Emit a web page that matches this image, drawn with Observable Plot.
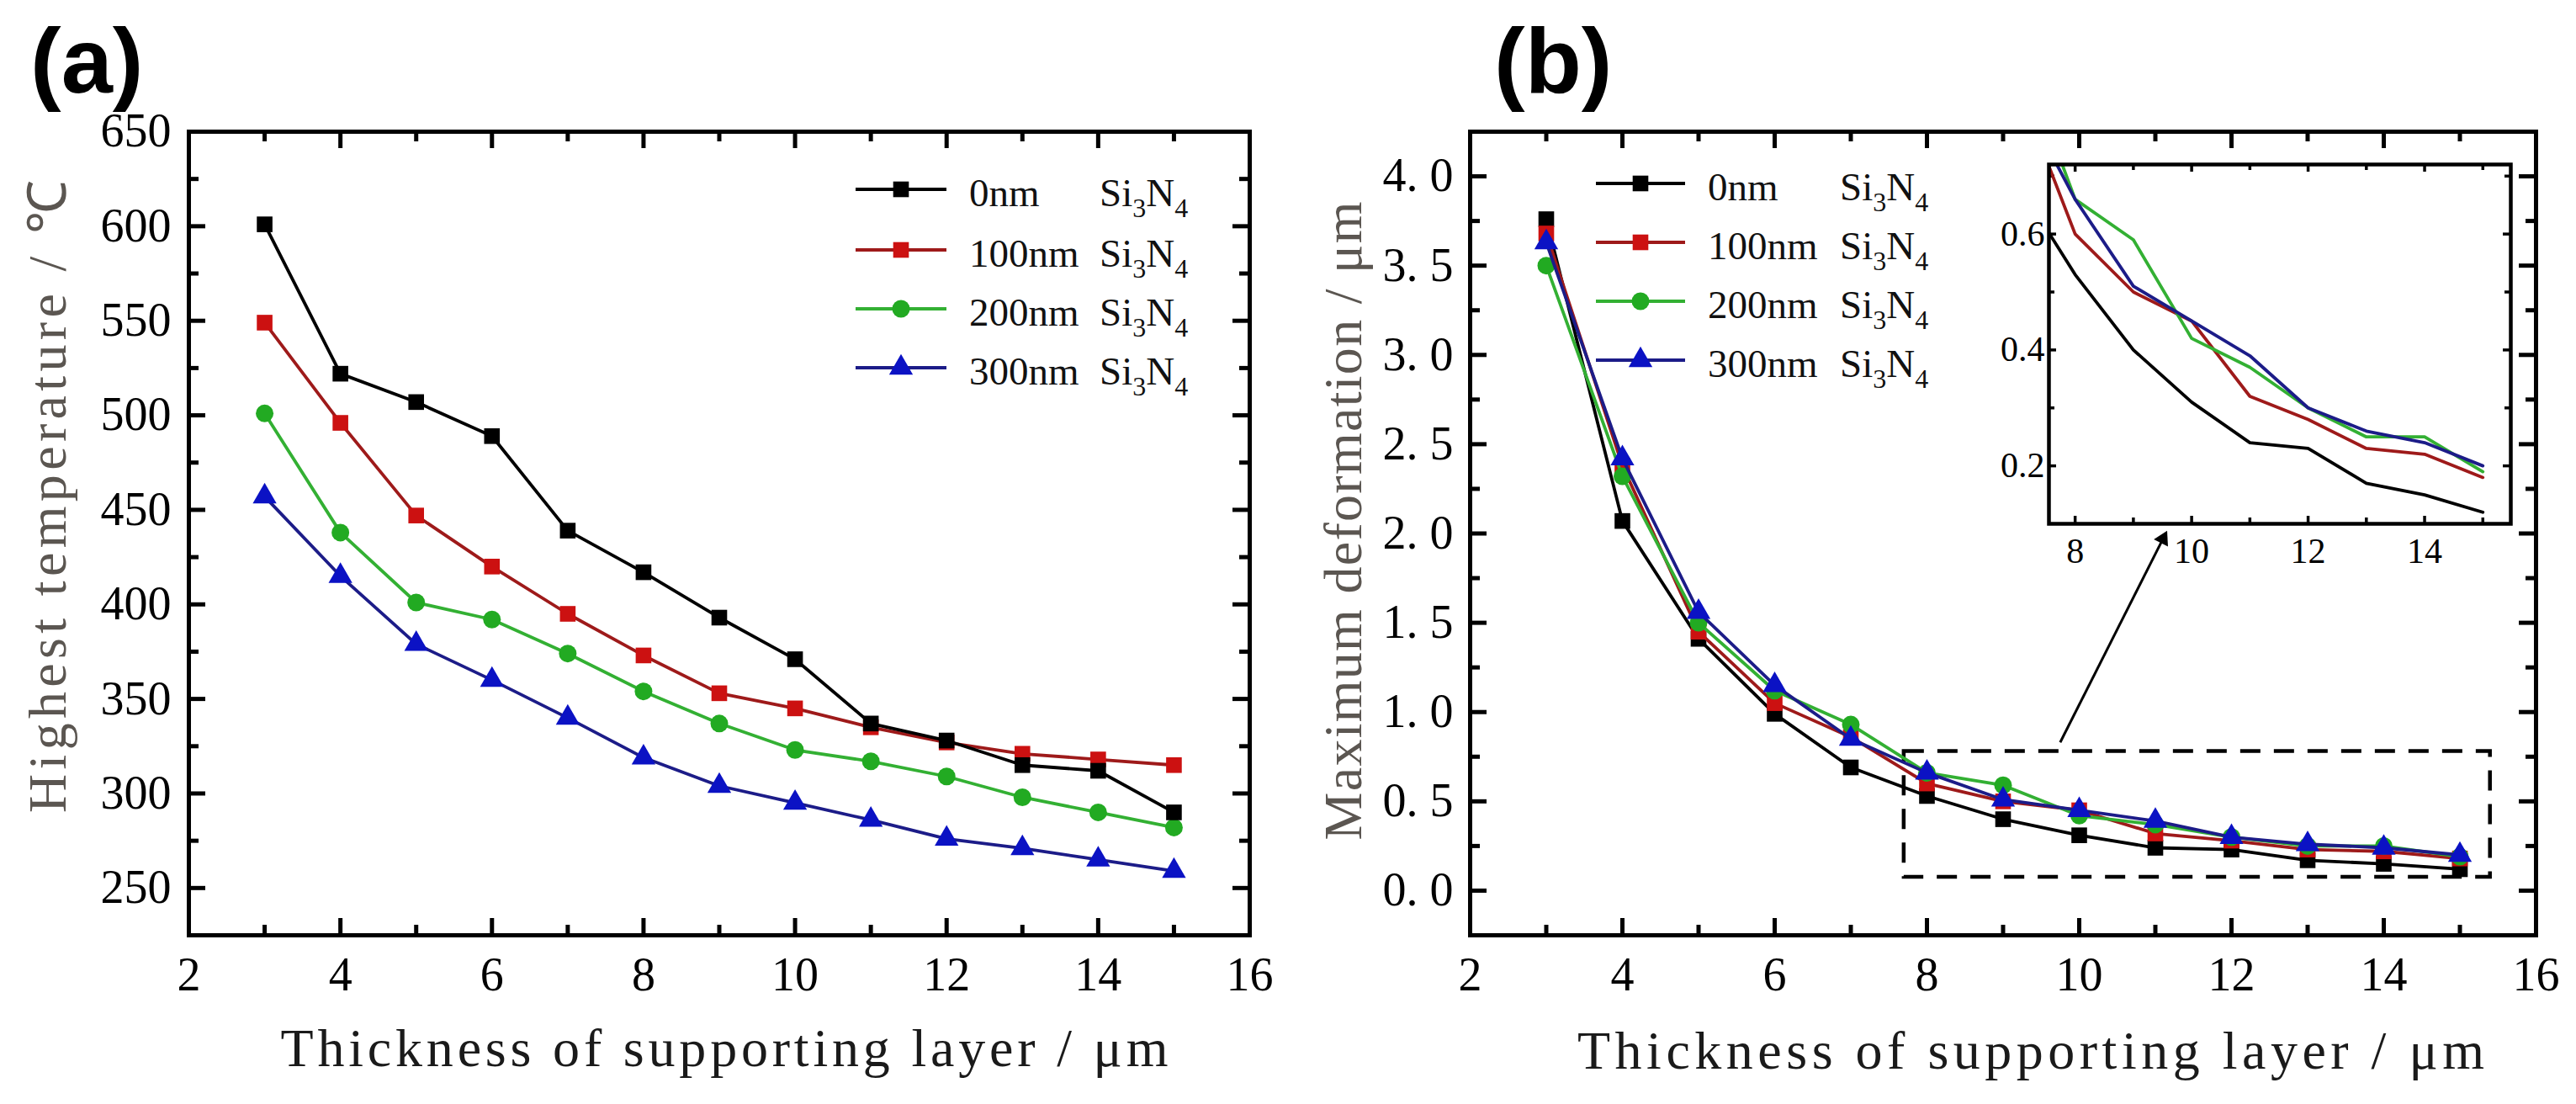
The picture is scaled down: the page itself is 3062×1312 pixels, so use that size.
<!DOCTYPE html>
<html>
<head>
<meta charset="utf-8">
<script src="https://cdn.jsdelivr.net/npm/d3@7"></script>
<script src="https://cdn.jsdelivr.net/npm/@observablehq/plot@0.6"></script>
<style>
  html, body { margin: 0; padding: 0; background: #fff; overflow: hidden; }
  #wrap { position: relative; width: 3062px; height: 1312px; background: #fff; overflow: hidden; }
  #wrap > svg { position: absolute; }
</style>
</head>
<body>
<div id="wrap"></div>
<script>
// ---------------- DATA ----------------
const thickness = [3, 4, 5, 6, 7, 8, 9, 10, 11, 12, 13, 14, 15];
const seriesNames = ["0nm", "100nm", "200nm", "300nm"];
const materialLabel = ["Si", "3", "N", "4"];

// (a) Highest temperature / ℃
const temp0nm   = [601, 522, 507, 489, 439, 417, 393, 371, 337, 328, 315, 312, 290];
const temp100nm = [549, 496, 447, 420, 395, 373, 353, 345, 335, 327, 321, 318, 315];
const temp200nm = [501, 438, 401, 392, 374, 354, 337, 323, 317, 309, 298, 290, 282];
const temp300nm = [457, 415, 379, 360, 340, 319, 304, 295, 286, 276, 271, 265, 259];

// (b) Maximum deformation / μm
const def0nm   = [3.76, 2.07, 1.41, 0.99, 0.69, 0.53, 0.40, 0.31, 0.24, 0.23, 0.17, 0.15, 0.12];
const def100nm = [3.68, 2.38, 1.45, 1.05, 0.86, 0.60, 0.50, 0.45, 0.32, 0.28, 0.23, 0.22, 0.18];
const def200nm = [3.50, 2.32, 1.50, 1.12, 0.93, 0.66, 0.59, 0.42, 0.37, 0.30, 0.25, 0.25, 0.19];
const def300nm = [3.63, 2.42, 1.56, 1.15, 0.85, 0.66, 0.51, 0.45, 0.39, 0.30, 0.26, 0.24, 0.20];

// ticks
const xTicksMajor = [2, 4, 6, 8, 10, 12, 14, 16];
const xTicksMinor = [3, 5, 7, 9, 11, 13, 15];
const tempTicksMajor = [250, 300, 350, 400, 450, 500, 550, 600, 650];
const tempTicksMinor = [275, 325, 375, 425, 475, 525, 575, 625];
const defTicksMajor = [0, 0.5, 1.0, 1.5, 2.0, 2.5, 3.0, 3.5, 4.0];
const defTicksMinor = [0.25, 0.75, 1.25, 1.75, 2.25, 2.75, 3.25, 3.75];
const insetXMajor = [8, 10, 12, 14];
const insetXMinor = [9, 11, 13, 15];
const insetYMajor = [0.2, 0.4, 0.6];
const insetYMinor = [0.3, 0.5, 0.7];

// annotations (data coordinates of panel b)
const zoomBox = [{x1: 7.7, x2: 15.4, y1: 0.075, y2: 0.78}];
const zoomArrow = [{x1: 9.75, y1: 0.83, x2: 11.1, y2: 1.97}];

// text
const panelLabels = ["(a)", "(b)"];
const xTitle = "Thickness of supporting layer / μm";
const yTitleA = "Highest temperature / ℃";
const yTitleB = "Maximum deformation / μm";

// styles
const lineColors   = ["#000000", "#9e1a1a", "#33b033", "#1c1c88"];
const markerColors = ["#000000", "#cc1111", "#22aa22", "#0b12c4"];
const symbolTypes  = [d3.symbolSquare, d3.symbolSquare, d3.symbolCircle, d3.symbolTriangle];

// ---------------- BUILD ----------------
function tidy(arrays) {
  return seriesNames.flatMap((s, k) => thickness.map((t, i) => ({series: s, k, x: t, y: arrays[k][i]})));
}
const tempData = tidy([temp0nm, temp100nm, temp200nm, temp300nm]);
const defData  = tidy([def0nm, def100nm, def200nm, def300nm]);

const SERIF = "'Liberation Serif', 'Times New Roman', serif";
const R = 10.5;

// inward ticks on all four sides + labels on bottom/left
function frameAxes({xMaj, xMin, yMaj, yMin, yFormat, W, H, major, minor, sw, padX, padY}) {
  const tk = {stroke: "#000", strokeWidth: sw};
  return [
    Plot.tickX(xMaj, {x: d => d, insetTop: H - major, ...tk}),
    Plot.tickX(xMin, {x: d => d, insetTop: H - minor, ...tk}),
    Plot.tickX(xMaj, {x: d => d, insetBottom: H - major, ...tk}),
    Plot.tickX(xMin, {x: d => d, insetBottom: H - minor, ...tk}),
    Plot.tickY(yMaj, {y: d => d, insetRight: W - major, ...tk}),
    Plot.tickY(yMin, {y: d => d, insetRight: W - minor, ...tk}),
    Plot.tickY(yMaj, {y: d => d, insetLeft: W - major, ...tk}),
    Plot.tickY(yMin, {y: d => d, insetLeft: W - minor, ...tk}),
    Plot.axisX({ticks: xMaj, anchor: "bottom", tickSize: 0, tickPadding: padX, label: null, tickFormat: d => String(d)}),
    Plot.axisY({ticks: yMaj, anchor: "left", tickSize: 0, tickPadding: padY, label: null, tickFormat: yFormat})
  ];
}

function seriesMarks(data, order, withDots = true, clip = false, lw = 3.8) {
  const marks = [];
  for (const k of order) {
    const sub = data.filter(d => d.k === k);
    marks.push(Plot.line(sub, {x: "x", y: "y", stroke: lineColors[k], strokeWidth: lw, clip}));
    if (withDots) marks.push(Plot.dot(sub, {x: "x", y: "y", r: R, symbol: symbolTypes[k], fill: markerColors[k], stroke: "none"}));
  }
  return marks;
}

function fitText(svg, str, len) {
  d3.select(svg).selectAll("text")
    .filter(function () { return this.textContent === str; })
    .attr("textLength", len).attr("lengthAdjust", "spacing");
}

const wrap = document.getElementById("wrap");

// ----- Panel (a)
const plotA = Plot.plot({
  width: 1531, height: 1312,
  marginLeft: 224, marginRight: 46, marginTop: 156, marginBottom: 201,
  style: {fontFamily: SERIF, fontSize: "56px", background: "transparent", color: "#000"},
  x: {domain: [2, 16], label: null},
  y: {domain: [225, 650], label: null},
  marks: [
    ...frameAxes({xMaj: xTicksMajor, xMin: xTicksMinor, yMaj: tempTicksMajor, yMin: tempTicksMinor,
      yFormat: d => String(d), W: 1261, H: 955, major: 20, minor: 12, sw: 5, padX: 26, padY: 21}),
    Plot.frame({stroke: "#000", strokeWidth: 5}),
    ...seriesMarks(tempData, [3, 2, 1, 0]),
    Plot.text([xTitle], {text: d => d, frameAnchor: "bottom", textAnchor: "middle", lineAnchor: "top", dx: 6, dy: 110, fontSize: 64, fontFamily: SERIF, fill: "#1a1a1a"}),
    Plot.text([yTitleA], {text: d => d, frameAnchor: "left", textAnchor: "middle", rotate: -90, lineAnchor: "top", dx: -192, dy: -44, fontSize: 64, fontFamily: SERIF, fill: "#5b5651"})
  ]
});
plotA.style.left = "0px"; plotA.style.top = "0px";
fitText(plotA, xTitle, 1055);
fitText(plotA, yTitleA, 752);
wrap.appendChild(plotA);

// ----- Panel (b)
const plotB = Plot.plot({
  width: 1531, height: 1312,
  marginLeft: 216, marginRight: 48, marginTop: 156, marginBottom: 201,
  style: {fontFamily: SERIF, fontSize: "56px", background: "transparent", color: "#000"},
  x: {domain: [2, 16], label: null},
  y: {domain: [-0.25, 4.25], label: null},
  marks: [
    ...frameAxes({xMaj: xTicksMajor, xMin: xTicksMinor, yMaj: defTicksMajor, yMin: defTicksMinor,
      yFormat: d => d.toFixed(1).replace(".", ". "), W: 1267, H: 955, major: 20, minor: 12, sw: 5, padX: 26, padY: 20}),
    Plot.frame({stroke: "#000", strokeWidth: 5}),
    Plot.rect(zoomBox, {x1: "x1", x2: "x2", y1: "y1", y2: "y2", fill: "none", stroke: "#000", strokeWidth: 4.5, strokeDasharray: "24 16"}),
    Plot.link(zoomArrow, {x1: "x1", y1: "y1", x2: "x2", y2: "y2", stroke: "#000", strokeWidth: 3}),
    Plot.dot(zoomArrow, {x: "x2", y: "y2", symbol: "triangle", r: 7, fill: "#000", stroke: "none", rotate: 27}),
    ...seriesMarks(defData, [0, 1, 2, 3]),
    Plot.text([xTitle], {text: d => d, frameAnchor: "bottom", textAnchor: "middle", lineAnchor: "top", dx: 33, dy: 113, fontSize: 64, fontFamily: SERIF, fill: "#1a1a1a"}),
    Plot.text([yTitleB], {text: d => d, frameAnchor: "left", textAnchor: "middle", rotate: -90, lineAnchor: "top", dx: -175, dy: -15, fontSize: 64, fontFamily: SERIF, fill: "#5b5651"})
  ]
});
plotB.style.left = "1531px"; plotB.style.top = "0px";
fitText(plotB, xTitle, 1078);
fitText(plotB, yTitleB, 759);
wrap.appendChild(plotB);

// ----- Inset of panel (b)
const inset = Plot.plot({
  width: 720, height: 540,
  marginLeft: 135, marginRight: 36, marginTop: 45, marginBottom: 68,
  style: {fontFamily: SERIF, fontSize: "42px", background: "transparent", color: "#000"},
  x: {domain: [7.55, 15.48], label: null},
  y: {domain: [0.1, 0.72], label: null},
  marks: [
    ...frameAxes({xMaj: insetXMajor, xMin: insetXMinor, yMaj: insetYMajor, yMin: insetYMinor,
      yFormat: d => d.toFixed(1), W: 549, H: 427, major: 9, minor: 7, sw: 3.5, padX: 17, padY: 5}),
    ...seriesMarks(defData, [0, 1, 2, 3], false, true, 3.8),
    Plot.frame({stroke: "#000", strokeWidth: 4.5})
  ]
});
inset.style.left = "2300px"; inset.style.top = "150px";
wrap.appendChild(inset);

// ----- Overlay: panel letters and legends
const overlay = d3.create("svg").attr("width", 3062).attr("height", 1312)
  .style("left", "0px").style("top", "0px").style("pointer-events", "none");

[[36, panelLabels[0]], [1776, panelLabels[1]]].forEach(([x, t]) => {
  overlay.append("text").attr("x", x).attr("y", 110)
    .attr("font-family", "'Liberation Sans', Arial, sans-serif").attr("font-weight", "bold")
    .attr("font-size", 110).attr("fill", "#000").text(t);
});

function legend(rows, lx1, lx2, mx, tx, sx) {
  const g = overlay.append("g").attr("font-family", SERIF).attr("font-size", 47).attr("fill", "#111");
  seriesNames.forEach((s, k) => {
    const y = rows[k];
    g.append("line").attr("x1", lx1).attr("x2", lx2).attr("y1", y).attr("y2", y)
      .attr("stroke", lineColors[k]).attr("stroke-width", 4);
    g.append("path").attr("d", d3.symbol(symbolTypes[k], Math.PI * R * R)())
      .attr("transform", `translate(${mx},${y})`).attr("fill", markerColors[k]);
    g.append("text").attr("x", tx).attr("y", y + 20).text(s);
    const t = g.append("text").attr("x", sx).attr("y", y + 20);
    t.append("tspan").text(materialLabel[0]);
    t.append("tspan").attr("font-size", 32).attr("dy", 13).text(materialLabel[1]);
    t.append("tspan").attr("dy", -13).text(materialLabel[2]);
    t.append("tspan").attr("font-size", 32).attr("dy", 13).text(materialLabel[3]);
  });
}
legend([225, 297, 367, 437], 1017, 1125, 1071, 1152, 1307);
legend([218, 288, 358, 428], 1897, 2003, 1950, 2030, 2187);

wrap.appendChild(overlay.node());
</script>
</body>
</html>
